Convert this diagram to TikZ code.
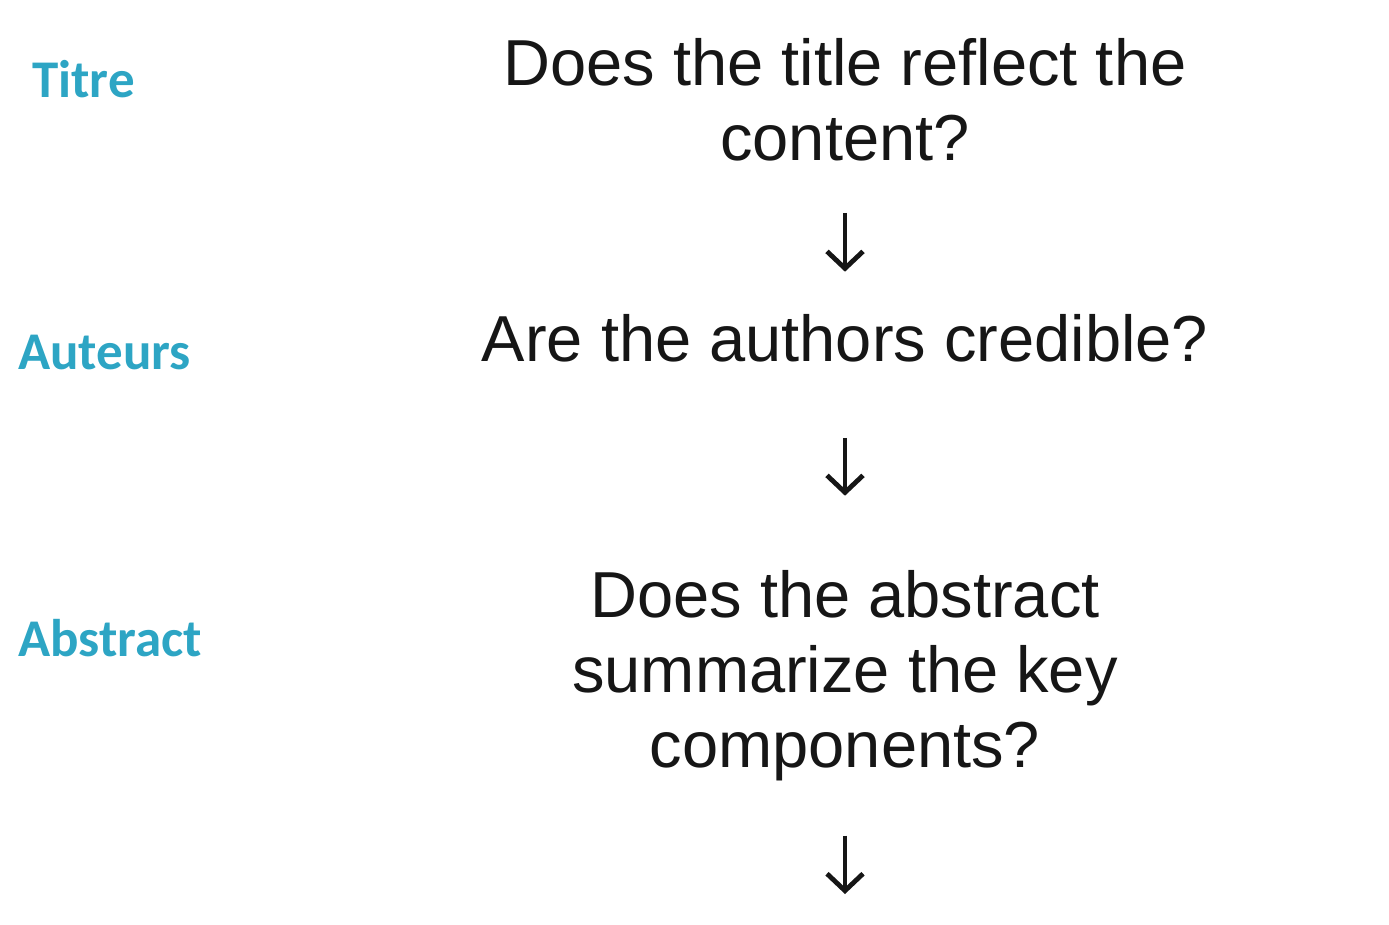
\documentclass[tikz,border=0pt]{standalone}
\usepackage{fontspec}
\setmainfont{Liberation Sans}
\newfontfamily\labelfont{Carlito}
\usetikzlibrary{arrows.meta}
\definecolor{labelblue}{RGB}{45,165,196}
\definecolor{textgrey}{RGB}{22,22,22}
\tikzset{
  sidelabel/.style={anchor=base west, inner sep=0pt, text=labelblue,
    font=\labelfont\bfseries\fontsize{53pt}{60pt}\selectfont},
  question/.style={anchor=base, inner sep=0pt, align=center, text=textgrey,
    font=\fontsize{65pt}{75pt}\selectfont},
  flowarrow/.style={draw=textgrey, line width=4.8pt,
    -{Straight Barb[length=17pt,width=36pt,line width=4.8pt]}}
}
\begin{document}
\begin{tikzpicture}[x=1pt,y=-1pt]
\useasboundingbox (0,0) rectangle (1389,924);
\node[sidelabel] (lt) at (32,97) {Titre};
\node[sidelabel] (la) at (18,369) {Auteurs};
\node[sidelabel] (lb) at (18,656) {Abstract};
\node[question] (q1) at (845,160) {Does the title reflect the\\content?};
\node[question] (q2) at (845,361) {Are the authors credible?};
\node[question] (q3) at (845,767) {Does the abstract\\summarize the key\\components?};
\coordinate (a3e) at (845,894);
\draw[flowarrow, shorten <=52pt, shorten >=42pt] (q1.south) -- (q2.north);
\draw[flowarrow, shorten <=76pt, shorten >=74pt] (q2.south) -- (q3.north);
\draw[flowarrow, shorten <=55pt] (q3.south) -- (a3e);
\end{tikzpicture}
\end{document}
